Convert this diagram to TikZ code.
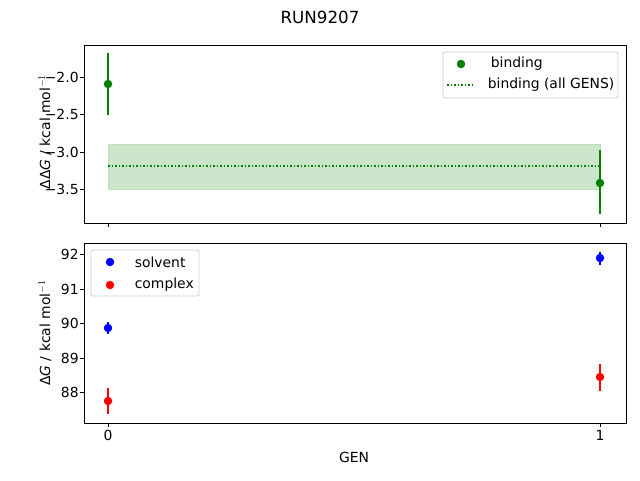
\documentclass[tikz,border=0pt]{standalone}
\usepackage{fontspec}
\setmainfont{DejaVu Sans}
\usetikzlibrary{positioning}
\definecolor{mgreen}{RGB}{0,128,0}
\begin{document}
\fontsize{13.9}{16}\selectfont
\begin{tikzpicture}[x=1pt,y=-1pt,
    frame/.style={draw=black, line width=0.8pt},
    tick/.style={draw=black, line width=0.8pt},
    ticklabel/.style={inner sep=1pt},
    gpoint/.style={circle, fill=mgreen, inner sep=0pt, minimum size=8.5pt},
    bpoint/.style={circle, fill=blue, inner sep=0pt, minimum size=8.5pt},
    rpoint/.style={circle, fill=red, inner sep=0pt, minimum size=8.5pt},
    errbar/.style={line width=1.5pt},
    legbox/.style={draw=black!20, fill=white, rounded corners=2pt, line width=0.8pt},
  ]
  \useasboundingbox (0,0) rectangle (640,480);
  \node[font=\fontsize{16.7}{19}\selectfont] (title) at (320,17) {RUN9207};

  %   %Top axes
  \fill[draw=mgreen!25, fill=mgreen!20] (108,144) rectangle (600,189);
  \draw[mgreen, dotted, line width=1.5pt] (108,166) -- (600,166);
  \coordinate (t1a) at (108,53);  \coordinate (t1b) at (108,115);
  \coordinate (t2a) at (600,150); \coordinate (t2b) at (600,214);
  \draw[mgreen, errbar] (t1a) -- (t1b);
  \draw[mgreen, errbar] (t2a) -- (t2b);
  \node[gpoint] (g0) at (108,84) {};
  \node[gpoint] (g1) at (600,183) {};
  \draw[frame] (84,45) rectangle (626,223);
  \foreach \v/\y in {2.0/77,2.5/114,3.0/152,3.5/189}
    \draw[tick] (84,\y) -- (80,\y) node[left, ticklabel] {−\v};
  \foreach \x in {108,600}
    \draw[tick] (\x,223) -- (\x,227);
  \node[rotate=90] (ylab1) at (45,132) {ΔΔ\textit{G} / kcal mol$^{-1}$};
  \draw[legbox] (443,52) rectangle (618,98);
  \node[gpoint] (lg1) at (461,64) {};
  \node[anchor=west] at (486,64) {binding};
  \coordinate (lg2a) at (447,85); \coordinate (lg2b) at (475,85);
  \draw[mgreen, dotted, line width=1.5pt] (lg2a) -- (lg2b);
  \node[anchor=west] at (483,85) {binding (all GENS)};

  %   %Bottom axes
  \coordinate (s0a) at (108,322); \coordinate (s0b) at (108,334);
  \coordinate (s1a) at (600,252); \coordinate (s1b) at (600,265);
  \coordinate (c0a) at (108,388); \coordinate (c0b) at (108,414);
  \coordinate (c1a) at (600,364); \coordinate (c1b) at (600,391);
  \draw[blue, errbar] (s0a) -- (s0b);
  \draw[blue, errbar] (s1a) -- (s1b);
  \draw[red, errbar] (c0a) -- (c0b);
  \draw[red, errbar] (c1a) -- (c1b);
  \node[bpoint] (s0) at (108,328) {};
  \node[bpoint] (s1) at (600,258) {};
  \node[rpoint] (c0) at (108,401) {};
  \node[rpoint] (c1) at (600,377) {};
  \draw[frame] (84,243) rectangle (626,423);
  \foreach \v/\y in {92/254,91/289,90/323,89/358,88/392}
    \draw[tick] (84,\y) -- (80,\y) node[left, ticklabel] {\v};
  \foreach \v/\x in {0/108,1/600}
    \draw[tick] (\x,423) -- (\x,427) node[below, ticklabel, yshift=-2pt] {\v};
  \node[rotate=90] (ylab2) at (45,333) {Δ\textit{G} / kcal mol$^{-1}$};
  \node (xlab) at (354,457) {GEN};
  \draw[legbox] (91,250) rectangle (199,296);
  \node[bpoint] (lb1) at (110,262) {};
  \node[anchor=west] at (130,262) {solvent};
  \node[rpoint] (lb2) at (110,285) {};
  \node[anchor=west] at (130,285) {complex};
\end{tikzpicture}
\end{document}
